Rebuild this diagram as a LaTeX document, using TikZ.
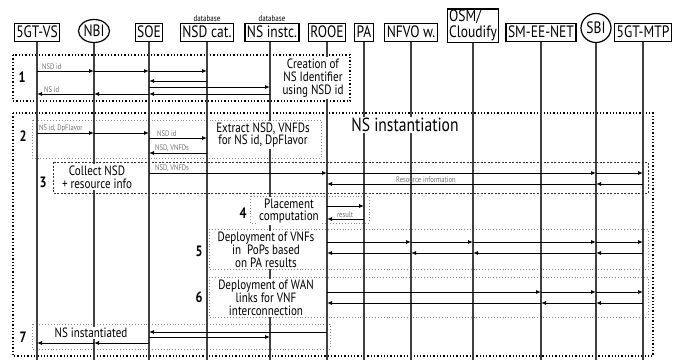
\documentclass[tikz,border=0pt]{standalone}
\usepackage{fontspec}
\setmainfont{PT Sans}[FakeStretch=0.82]
\usetikzlibrary{arrows.meta, shapes.geometric}
\definecolor{lifegray}{HTML}{404040}
\definecolor{boxgray}{HTML}{8A8A8A}
\definecolor{lblgray}{HTML}{707070}

\begin{document}
\begin{tikzpicture}[
  x=1pt, y=-1pt,
  >={Latex[length=5pt, width=4pt]},
  hdrbase/.style={draw, line width=1.2pt, inner sep=2pt,
    font=\fontsize{16.5}{15}\selectfont},
  hdr/.style={hdrbase, minimum height=18pt, text height=12pt, text depth=1.5pt},
  iface/.style={draw, ellipse, line width=1.2pt, inner sep=0.5pt,
    font=\fontsize{16.5}{16}\selectfont},
  dblbl/.style={font=\fontsize{8.5}{9}\selectfont, inner sep=1pt},
  life/.style={lifegray, line width=1.1pt},
  msg/.style={->, black, line width=0.9pt},
  mlbl/.style={lblgray, font=\fontsize{8}{8}\selectfont, inner sep=1pt},
  outerbox/.style={black, dotted, line width=1.3pt},
  innerbox/.style={boxgray, dotted, line width=0.9pt},
  dashbox/.style={black!80, dash pattern=on 2pt off 1.5pt, line width=0.8pt},
  txt/.style={fill=white, align=center, inner sep=1.5pt,
    font=\fontsize{13.5}{12.8}\selectfont},
  stepnum/.style={font=\fontsize{15}{15}\selectfont\bfseries, inner sep=0pt},
]
\useasboundingbox (0,0) rectangle (689,360);

% ══════════════════════════════════════════════════════
% Steps (boxes)
% ══════════════════════════════════════════════════════
\draw[outerbox] (13,55) rectangle (350,101);
\draw[outerbox] (13,113) rectangle (653,356);
\draw[innerbox] (32,120) rectangle (321,158);
\draw[dashbox]  (53,162) rectangle (648,193);
\draw[innerbox] (250,196) rectangle (369,223);
\draw[innerbox] (209,229) rectangle (648,269);
\draw[innerbox] (209,277) rectangle (648,317);
\draw[innerbox] (32,324) rectangle (330,349);

% ══════════════════════════════════════════════════════
% Participants
% ══════════════════════════════════════════════════════
\node[hdr, anchor=south] (vs) at (37,42) {5GT-VS};
\node[iface, minimum width=31pt, minimum height=23pt] (nbi) at (94,31) {NBI};
\node[hdr, anchor=south] (soe) at (149,42) {SOE};
\node[hdr, anchor=south] (nsdcat) at (207,42) {NSD cat.};
\node[hdr, anchor=south] (nsinst) at (272,42) {NS instc.};
\node[hdr, anchor=south] (rooe) at (327,42) {ROOE};
\node[hdr, anchor=south] (pa) at (364,42) {PA};
\node[hdr, anchor=south] (nfvo) at (411,42) {NFVO w.};
\node[hdrbase, anchor=south, inner ysep=0.5pt] (osm) at (473,43)
  {\begin{tabular}{@{}l@{}}OSM/\\Cloudify\end{tabular}};
\node[hdr, anchor=south] (smee) at (541,42) {SM-EE-NET};
\node[iface, minimum width=30pt, minimum height=29pt] (sbi) at (596,28) {SBI};
\node[hdr, anchor=south] (mtp) at (643,42) {5GT-MTP};

\node[dblbl, anchor=south] (db1) at (nsdcat.north) {database};
\node[dblbl, anchor=south] (db2) at (nsinst.north) {database};

% Lifelines
\coordinate (bot) at (0,360);
\foreach \n in {vs, nbi, soe, nsdcat, rooe, pa, nfvo, osm, smee, sbi, mtp}
  \draw[life] (\n.south) -- (\n |- bot);
\coordinate (nsline) at (270,0);
\draw[life] (nsline |- nsinst.south) -- (nsline |- bot);

% ══════════════════════════════════════════════════════
% Step texts (white, over the lifelines)
% ══════════════════════════════════════════════════════
\node[txt] (t1) at (313,78) {Creation of\\NS Identifier\\using NSD id};
\node[txt, font=\fontsize{19}{19}\selectfont] (tns) at (405,125) {NS instantiation};
\node[txt] (t2) at (263,135) {Extract NSD, VNFDs\\for NS id, DpFlavor};
\node[txt] (t3) at (97,177) {Collect NSD\\+ resource info};
\node[txt] (t4) at (289,211) {Placement\\computation};
\node[txt] (t5) at (266,250) {Deployment of VNFs\\in \ PoPs based\\on PA results};
\node[txt] (t6) at (266,298) {Deployment of WAN\\links for VNF\\interconnection};
\node[txt] (t7) at (91,333) {NS instantiated};

\node[stepnum] (n1) at (22,77) {1};
\node[stepnum] (n2) at (23,136) {2};
\node[stepnum] (n3) at (43,182) {3};
\node[stepnum] (n4) at (243,213) {4};
\node[stepnum] (n5) at (199,251) {5};
\node[stepnum] (n6) at (199,297) {6};
\node[stepnum] (n7) at (23,337) {7};

% ══════════════════════════════════════════════════════
% Messages
% ══════════════════════════════════════════════════════
\coordinate (m1a) at (0,71);
\coordinate (m1b) at (0,81);
\coordinate (m1c) at (0,87);
\coordinate (m1d) at (0,94);
\coordinate (m2a) at (0,133);
\coordinate (m2b) at (0,138);
\coordinate (m2c) at (0,153);
\coordinate (m3a) at (0,173);
\coordinate (m3b) at (0,184);
\coordinate (m4a) at (0,206);
\coordinate (m4b) at (0,219);
\coordinate (m5a) at (0,242);
\coordinate (m5b) at (0,253);
\coordinate (m6a) at (0,292);
\coordinate (m6b) at (0,303);
\coordinate (m7a) at (0,332);
\coordinate (m7b) at (0,337);
\coordinate (m7c) at (0,343);

% step 1
\foreach \a/\b in {vs/nbi, nbi/soe, soe/nsdcat}
  \draw[msg] (\a |- m1a) -- (\b |- m1a);
\draw[msg] (nsdcat |- m1b) -- (soe |- m1b);
\draw[msg] (soe |- m1c) -- (nsline |- m1c);
\draw[msg] (nsline |- m1d) -- (soe |- m1d);
\foreach \a/\b in {soe/nbi, nbi/vs}
  \draw[msg] (\a |- m1d) -- (\b |- m1d);
\node[mlbl, anchor=south west] (l1a) at ([xshift=4pt]vs |- m1a) {NSD id};
\node[mlbl, anchor=south west] (l1d) at ([xshift=6pt]vs |- m1d) {NS id};

% step 2
\foreach \a/\b in {vs/nbi, nbi/soe}
  \draw[msg] (\a |- m2a) -- (\b |- m2a);
\draw[msg] (soe |- m2b) -- (nsdcat |- m2b);
\draw[msg] (nsdcat |- m2c) -- (soe |- m2c);
\node[mlbl, anchor=south west] (l2a) at ([xshift=1pt]vs |- m2a) {NS id, DpFlavor};
\node[mlbl, anchor=south west] (l2b) at ([xshift=7pt]soe |- m2b) {NSD id};
\node[mlbl, anchor=south west] (l2c) at ([xshift=5pt]soe |- m2c) {NSD, VNFDs};

% step 3
\foreach \a/\b in {soe/rooe, rooe/sbi, sbi/mtp}
  \draw[msg] (\a |- m3a) -- (\b |- m3a);
\foreach \a/\b in {mtp/sbi, sbi/rooe}
  \draw[msg] (\a |- m3b) -- (\b |- m3b);
\node[mlbl, anchor=south west] (l3a) at ([xshift=5pt]soe |- m3a) {NSD, VNFDs};
\node[mlbl, anchor=south] (l3b) at ([xshift=15pt]nfvo |- m3b) {Resource information};

% step 4
\draw[msg] (rooe |- m4a) -- (pa |- m4a);
\draw[msg] (pa |- m4b) -- (rooe |- m4b);
\node[mlbl, anchor=south] (l4b) at ([xshift=-19pt]pa |- m4b) {result};

% step 5
\foreach \a/\b in {rooe/nfvo, nfvo/osm, osm/sbi, sbi/mtp}
  \draw[msg] (\a |- m5a) -- (\b |- m5a);
\foreach \a/\b in {mtp/sbi, sbi/osm, osm/nfvo, nfvo/rooe}
  \draw[msg] (\a |- m5b) -- (\b |- m5b);

% step 6
\foreach \a/\b in {rooe/smee, smee/sbi, sbi/mtp}
  \draw[msg] (\a |- m6a) -- (\b |- m6a);
\foreach \a/\b in {mtp/sbi, sbi/smee, smee/rooe}
  \draw[msg] (\a |- m6b) -- (\b |- m6b);

% step 7
\draw[msg] (rooe |- m7a) -- (soe |- m7a);
\draw[msg] (soe |- m7b) -- (nsline |- m7b);
\foreach \a/\b in {soe/nbi, nbi/vs}
  \draw[msg] (\a |- m7c) -- (\b |- m7c);

\end{tikzpicture}
\end{document}
